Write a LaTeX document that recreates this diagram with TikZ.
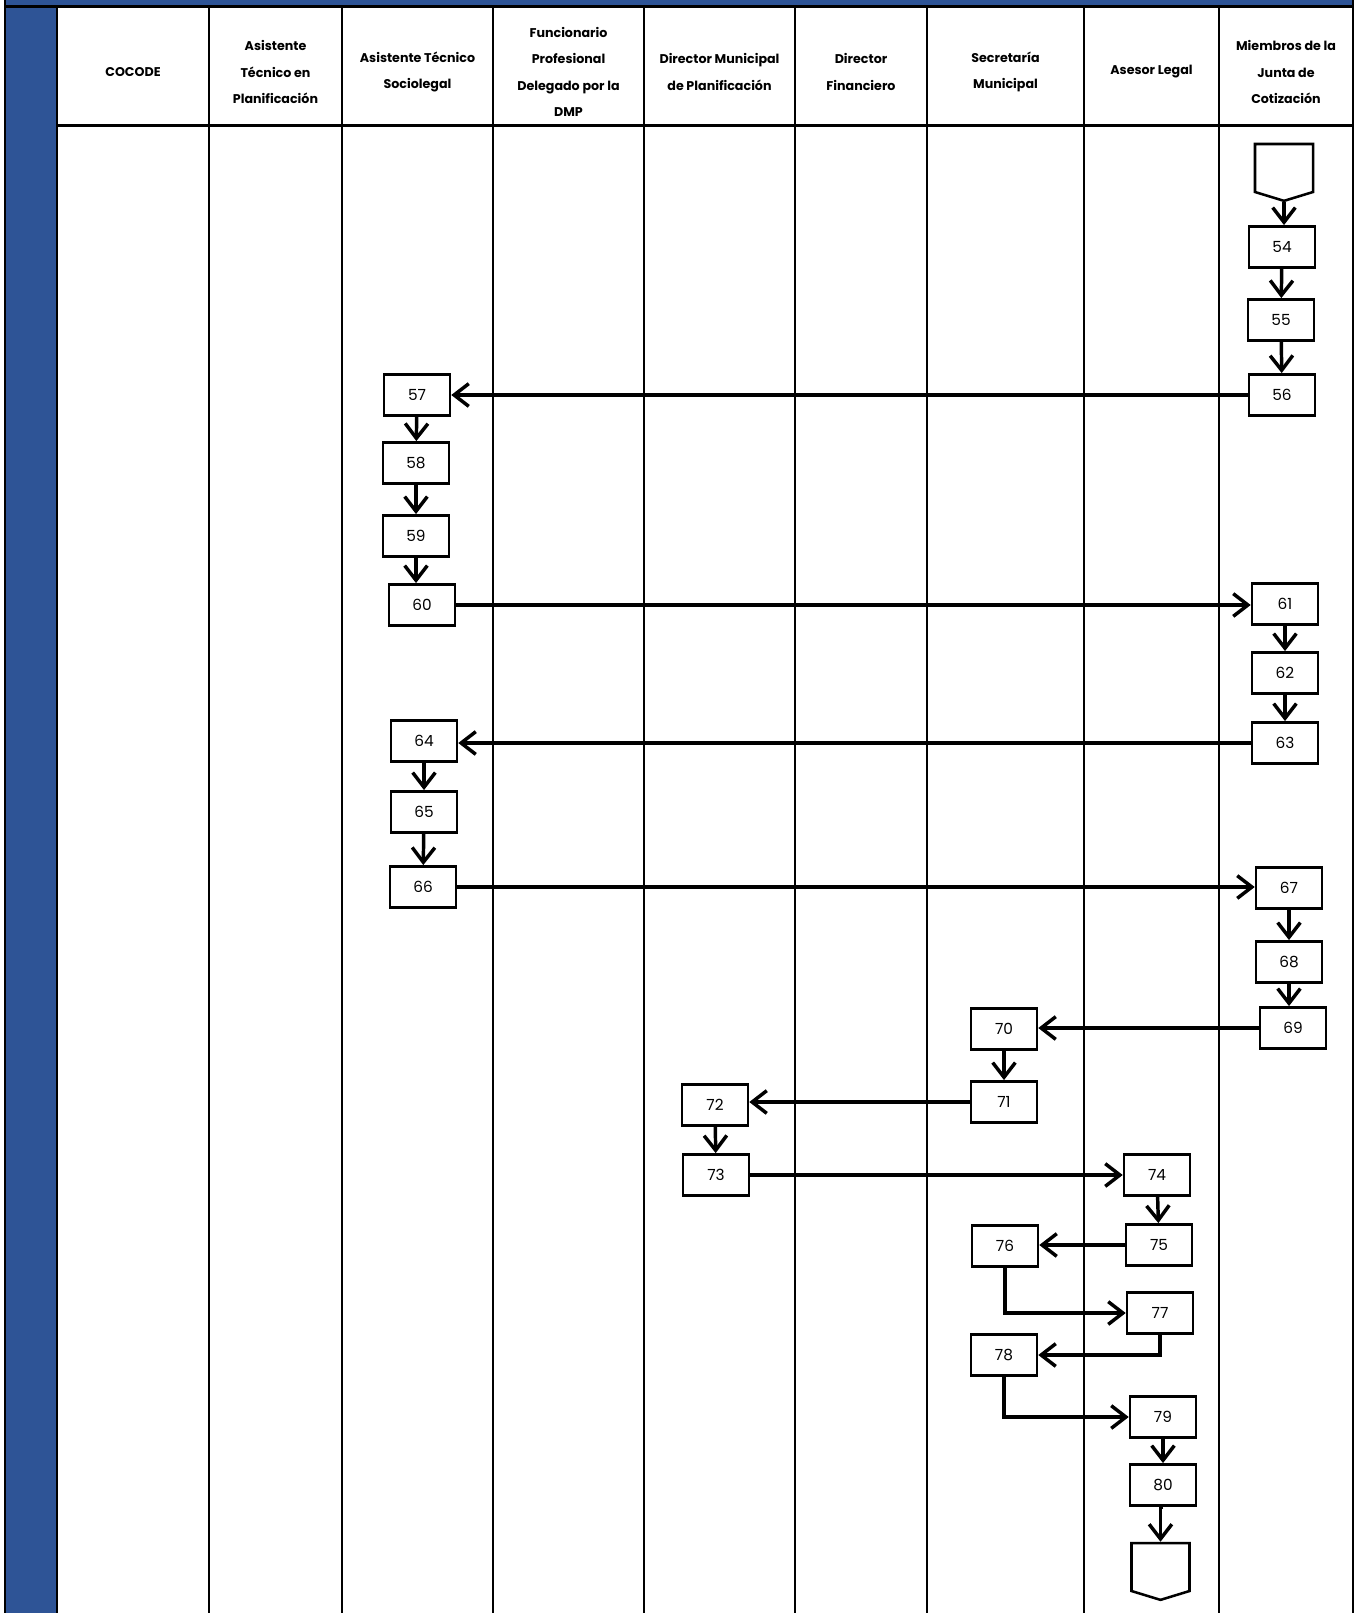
\documentclass[tikz,border=0pt]{standalone}
\usepackage{fontspec}
\setmainfont{Poppins}
\usepackage{tikz}
\usetikzlibrary{arrows.meta,shapes.symbols}
\definecolor{laneblue}{RGB}{46,84,150}

\begin{document}
\begin{tikzpicture}[
    x=0.75pt,
    y=-0.75pt,
    lane/.style={line width=1.9pt},
    head/.style={
        align=center,
        inner sep=0pt,
        font=\fontsize{9.5}{19.7}\selectfont\bfseries
    },
    stepbox/.style={
        draw,
        line width=1.9pt,
        minimum width=49.5pt,
        minimum height=31pt,
        inner sep=0pt,
        font=\fontsize{11.5}{13}\selectfont
    },
    offpage/.style={
        draw,
        line width=1.9pt,
        shape=signal,
        signal to=south,
        signal pointer angle=146,
        minimum width=43.5pt,
        minimum height=36pt,
        inner sep=0pt
    },
    arr/.style={-{Straight Barb[length=11pt,width=17pt]}, line width=2.6pt}
]
\useasboundingbox (0,0) rectangle (1356,1613);

% frame and swimlanes
\fill[laneblue] (5,0) rectangle (1353,6);
\fill[laneblue] (5,6) rectangle (57,1613);
\draw[lane] (5,0) -- (5,1613);
\draw[lane] (1353,0) -- (1353,1613);
\draw[lane] (5,6.5) -- (1353,6.5);
\draw[lane] (57,125.5) -- (1353,125.5);
\draw[lane] (57,6) -- (57,1613)
            (209,6) -- (209,1613)
            (342,6) -- (342,1613)
            (493,6) -- (493,1613)
            (644,6) -- (644,1613)
            (795,6) -- (795,1613)
            (927,6) -- (927,1613)
            (1084,6) -- (1084,1613)
            (1219,6) -- (1219,1613);

% lane headers
\node[head] (hcocode) at (133,72) {COCODE};
\node[head] (hplan) at (275.5,72) {Asistente\\Técnico en\\Planificación};
\node[head] (hsocio) at (417.5,72) {Asistente Técnico\\Sociolegal};
\node[head] (hdeleg) at (568.5,72) {Funcionario\\Profesional\\Delegado por la\\DMP};
\node[head] (hdmp) at (719.5,72) {Director Municipal\\de Planificación};
\node[head] (hfin) at (861,72) {Director\\Financiero};
\node[head] (hsec) at (1005.5,72) {Secretaría\\Municipal};
\node[head] (hlegal) at (1151.5,72) {Asesor Legal};
\node[head] (hjunta) at (1286,72) {Miembros de la\\Junta de\\Cotización};

% steps
\node[offpage] (start) at (1284,168) {};
\node[stepbox] (s54) at (1282,247) {54};
\node[stepbox] (s55) at (1281,320) {55};
\node[stepbox] (s56) at (1282,395) {56};
\node[stepbox] (s57) at (417,395) {57};
\node[stepbox] (s58) at (416,463) {58};
\node[stepbox] (s59) at (416,536) {59};
\node[stepbox] (s60) at (422,605) {60};
\node[stepbox] (s61) at (1285,604) {61};
\node[stepbox] (s62) at (1285,673) {62};
\node[stepbox] (s63) at (1285,743) {63};
\node[stepbox] (s64) at (424,741) {64};
\node[stepbox] (s65) at (424,812) {65};
\node[stepbox] (s66) at (423,887) {66};
\node[stepbox] (s67) at (1289,888) {67};
\node[stepbox] (s68) at (1289,962) {68};
\node[stepbox] (s69) at (1293,1028) {69};
\node[stepbox] (s70) at (1004,1029) {70};
\node[stepbox] (s71) at (1004,1102) {71};
\node[stepbox] (s72) at (715,1105) {72};
\node[stepbox] (s73) at (716,1175) {73};
\node[stepbox] (s74) at (1157,1175) {74};
\node[stepbox] (s75) at (1159,1245) {75};
\node[stepbox] (s76) at (1005,1246) {76};
\node[stepbox] (s77) at (1160,1313) {77};
\node[stepbox] (s78) at (1004,1355) {78};
\node[stepbox] (s79) at (1163,1417) {79};
\node[stepbox] (s80) at (1163,1485) {80};
\node[offpage] (stop) at (1160.5,1567) {};

% flow
\draw[arr] (start.south) -- (start.south |- s54.north);
\draw[arr] (s54) -- (s55);
\draw[arr] (s55) -- (s56);
\draw[arr] (s56.west) -- (s56.west -| s57.east);
\draw[arr] (s57) -- (s58);
\draw[arr] (s58) -- (s59);
\draw[arr] (s59.south) -- (s59.south |- s60.north);
\draw[arr] (s60.east) -- (s60.east -| s61.west);
\draw[arr] (s61) -- (s62);
\draw[arr] (s62) -- (s63);
\draw[arr] (s63.west) -- (s63.west -| s64.east);
\draw[arr] (s64) -- (s65);
\draw[arr] (s65) -- (s66);
\draw[arr] (s66.east) -- (s66.east -| s67.west);
\draw[arr] (s67) -- (s68);
\draw[arr] (s68.south) -- (s68.south |- s69.north);
\draw[arr] (s69.west) -- (s69.west -| s70.east);
\draw[arr] (s70) -- (s71);
\draw[arr] (s71.west) -- (s71.west -| s72.east);
\draw[arr] (s72) -- (s73);
\draw[arr] (s73.east) -- (s73.east -| s74.west);
\draw[arr] (s74) -- (s75);
\draw[arr] (s75.west) -- (s75.west -| s76.east);
\draw[arr] (s76.south) |- (s77.west);
\draw[arr] (s77.south) |- (s78.east);
\draw[arr] (s78.south) |- (s79.west);
\draw[arr] (s79) -- (s80);
\draw[arr] (s80.south) -- (s80.south -| stop.north) -- (stop.north);

\end{tikzpicture}
\end{document}
